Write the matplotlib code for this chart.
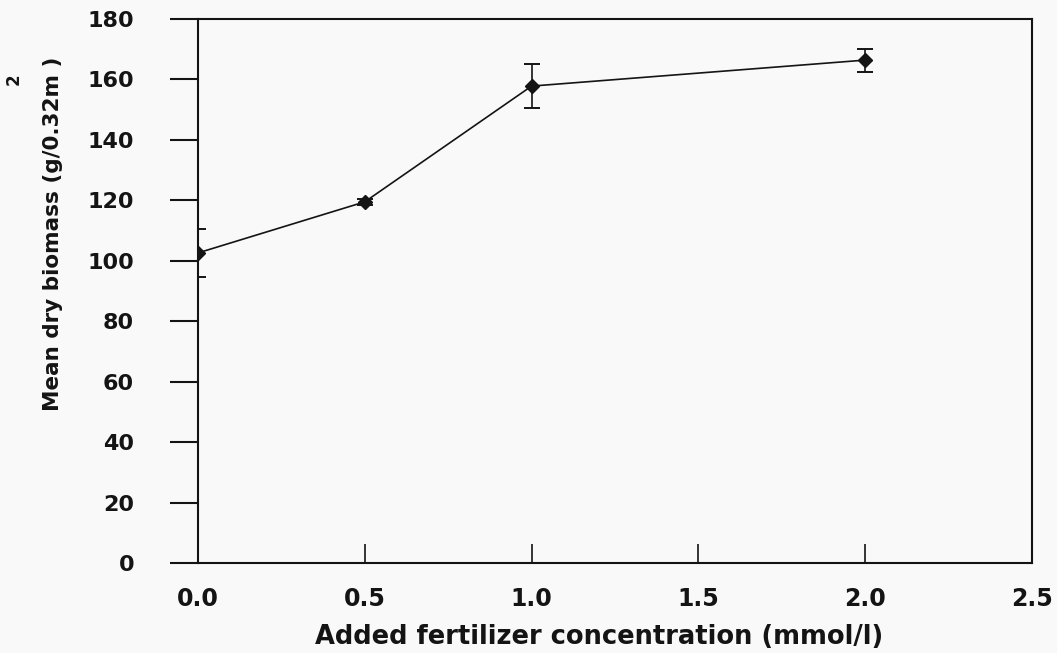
import matplotlib
matplotlib.use("Agg")
import matplotlib.pyplot as plt
from matplotlib.ticker import FormatStrFormatter, MultipleLocator

# values
concentration = [0.0, 0.5, 1.0, 2.0]
biomass = [102.6, 119.5, 157.8, 166.4]
biomass_err = [7.8, 1.0, 7.3, 3.8]

x_label = "Added fertilizer concentration (mmol/l)"
y_label = "Mean dry biomass (g/0.32m )"

ink = "#141414"
plt.rcParams["font.family"] = ["DejaVu Sans"]
plt.rcParams["font.weight"] = "bold"

fig = plt.figure(figsize=(10.57, 6.53), dpi=100, facecolor="#f9f9f9")
ax = fig.add_axes([0.1873, 0.1378, 0.789, 0.8331])
ax.set_facecolor("#f9f9f9")

ax.errorbar(
    concentration,
    biomass,
    yerr=biomass_err,
    color=ink,
    linewidth=1.2,
    marker="D",
    markersize=7.5,
    capsize=5.5,
    elinewidth=1.2,
    capthick=1.4,
)

ax.set_xlim(0, 2.5)
ax.set_ylim(0, 180)
ax.xaxis.set_major_locator(MultipleLocator(0.5))
ax.yaxis.set_major_locator(MultipleLocator(20))
ax.xaxis.set_major_formatter(FormatStrFormatter("%.1f"))

for side in ("left", "right", "top", "bottom"):
    ax.spines[side].set_linewidth(1.5)
    ax.spines[side].set_color(ink)

ax.tick_params(axis="x", direction="in", length=14, width=1.2, pad=17,
               labelsize=17, colors=ink)
ax.tick_params(axis="y", direction="out", length=20, width=1.5, pad=26,
               labelsize=16, colors=ink)

fig.text(0.567, 0.025, x_label, ha="center", va="center",
         fontsize=18.5, fontweight="bold", color=ink)
fig.text(0.050, 0.642, y_label, ha="center", va="center", rotation=90,
         fontsize=15.5, fontweight="bold", color=ink)
fig.text(0.0132, 0.879, "2", ha="center", va="center", rotation=90,
         fontsize=12, fontweight="bold", color=ink)

fig.savefig("out.png", dpi=100, facecolor=fig.get_facecolor())
